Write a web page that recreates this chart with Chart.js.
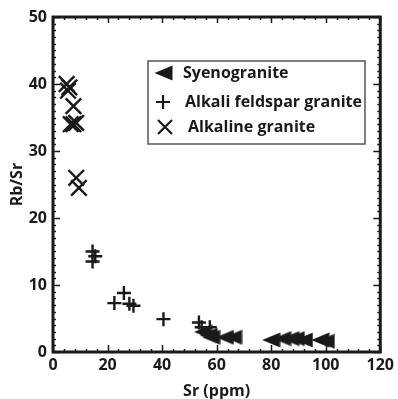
<!DOCTYPE html>
<html>
<head>
<meta charset="utf-8">
<script src="https://cdn.jsdelivr.net/npm/chart.js@4/dist/chart.umd.min.js"></script>
<style>
  html, body { margin: 0; padding: 0; background: #fff; }
  #wrap { width: 398px; height: 399px; }
</style>
</head>
<body>
<div id="wrap"><canvas id="rbsr"></canvas></div>
<script>
// ----- DATA -----
const seriesNames = ['Syenogranite', 'Alkali feldspar granite', 'Alkaline granite'];

const syenoSr = [55, 57, 58, 63, 66, 80, 84, 87, 89, 92, 98, 100];
const syenoRb = [3, 2.5, 2.2, 2.2, 2.2, 1.8, 2, 2, 2, 1.8, 1.8, 1.6];

const feldSr = [14.5, 15.5, 14.5, 26, 22.5, 28, 29.5, 40.5, 53.5, 54.5, 57.5];
const feldRb = [15, 14.3, 13.5, 8.8, 7.3, 7.2, 6.9, 4.9, 4.4, 3.7, 3.7];

const alkSr = [5, 6, 5.5, 7.5, 6.5, 7.5, 8.5, 8.5, 9.5];
const alkRb = [40, 39.5, 39, 36.7, 34, 34, 34.2, 26, 24.5];

const xTicks = [0, 20, 40, 60, 80, 100, 120];
const yTicks = [0, 10, 20, 30, 40, 50];

const ink = '#1a1a1a';
const labelFont = { family: 'Open Sans', size: 16, weight: 'bold' };

function toPoints(xs, ys) {
  return xs.map((x, i) => ({ x: x, y: ys[i] }));
}

// left-pointing, slightly elongated triangle used as the point style
function makeTriangle() {
  const c = document.createElement('canvas');
  c.width = 19; c.height = 16;
  const g = c.getContext('2d');
  g.fillStyle = ink;
  g.beginPath();
  g.moveTo(0.5, 8);
  g.lineTo(18.5, 0.5);
  g.lineTo(18.5, 15.5);
  g.closePath();
  g.fill();
  return c;
}
const triangleImg = makeTriangle();

// frame with inward major/minor ticks on all four sides
const framePlugin = {
  id: 'frame',
  beforeDatasetsDraw(chart) {
    const { ctx, chartArea: a, scales } = chart;
    const xs = scales.x, ys = scales.y;
    ctx.save();
    ctx.strokeStyle = ink;
    ctx.lineWidth = 1.5;
    ctx.beginPath();
    // x ticks (minor every 4, major every 20)
    for (let v = 0; v <= 120; v += 4) {
      const px = Math.round(xs.getPixelForValue(v)) + 0.5;
      const major = v % 20 === 0;
      const lenB = major ? 7 : 3;
      const lenT = major ? 6 : 3;
      ctx.moveTo(px, a.bottom); ctx.lineTo(px, a.bottom - lenB);
      ctx.moveTo(px, a.top); ctx.lineTo(px, a.top + lenT);
    }
    // y ticks (minor every 1, major every 10)
    for (let v = 0; v <= 50; v += 1) {
      const py = Math.round(ys.getPixelForValue(v)) + 0.5;
      const major = v % 10 === 0;
      const len = major ? 7 : 3;
      ctx.moveTo(a.left, py); ctx.lineTo(a.left + len, py);
      ctx.moveTo(a.right, py); ctx.lineTo(a.right - len, py);
    }
    ctx.stroke();
    ctx.lineWidth = 3;
    ctx.strokeRect(a.left, a.top, a.right - a.left, a.bottom - a.top);
    ctx.restore();
  }
};

// boxed legend inside the plot area
const legendBoxPlugin = {
  id: 'legendBox',
  afterDraw(chart) {
    const { ctx, chartArea: a } = chart;
    const left = a.left + 95, top = a.top + 44;
    ctx.save();
    ctx.strokeStyle = '#555';
    ctx.lineWidth = 1.5;
    ctx.strokeRect(left, top, 217, 83);

    ctx.fillStyle = ink;
    ctx.strokeStyle = ink;
    ctx.lineWidth = 2.2;
    // triangle pointing left
    const ty = top + 12;
    ctx.drawImage(triangleImg, left + 6, ty - 8);
    // plus
    const px = left + 15, py = top + 41;
    ctx.beginPath();
    ctx.moveTo(px - 7, py); ctx.lineTo(px + 7, py);
    ctx.moveTo(px, py - 7); ctx.lineTo(px, py + 7);
    ctx.stroke();
    // cross
    const cx = left + 17, cy = top + 66;
    ctx.beginPath();
    ctx.moveTo(cx - 7, cy - 7); ctx.lineTo(cx + 7, cy + 7);
    ctx.moveTo(cx + 7, cy - 7); ctx.lineTo(cx - 7, cy + 7);
    ctx.stroke();

    ctx.font = 'bold 16px "Open Sans"';
    ctx.textBaseline = 'middle';
    ctx.fillText(seriesNames[0], left + 35, ty);
    ctx.fillText(seriesNames[1], left + 37, py);
    ctx.fillText(seriesNames[2], left + 40, cy);
    ctx.restore();
  }
};

new Chart(document.getElementById('rbsr'), {
  type: 'scatter',
  data: {
    datasets: [
      {
        label: seriesNames[0],
        data: toPoints(syenoSr, syenoRb),
        pointStyle: triangleImg,
        radius: 8,
        backgroundColor: ink,
        borderColor: ink,
        clip: false
      },
      {
        label: seriesNames[1],
        data: toPoints(feldSr, feldRb),
        pointStyle: 'cross',
        radius: 7,
        borderColor: ink,
        borderWidth: 2.4,
        clip: false
      },
      {
        label: seriesNames[2],
        data: toPoints(alkSr, alkRb),
        pointStyle: 'crossRot',
        radius: 11,
        borderColor: ink,
        borderWidth: 2.4,
        clip: false
      }
    ]
  },
  options: {
    responsive: true,
    maintainAspectRatio: false,
    animation: false,
    layout: { padding: { top: 17, right: 16, left: 0, bottom: 0 } },
    plugins: {
      legend: { display: false },
      tooltip: { enabled: false }
    },
    scales: {
      x: {
        type: 'linear',
        min: 0,
        max: 120,
        afterBuildTicks: (s) => { s.ticks = xTicks.map(v => ({ value: v })); },
        afterFit: (s) => { s.height = 47; },
        grid: { display: false, drawTicks: false },
        border: { display: false },
        ticks: { color: ink, font: labelFont, padding: 4 },
        title: { display: true, text: 'Sr (ppm)', color: ink, font: labelFont, padding: { top: 0, bottom: -2 } }
      },
      y: {
        type: 'linear',
        min: 0,
        max: 50,
        afterBuildTicks: (s) => { s.ticks = yTicks.map(v => ({ value: v })); },
        afterFit: (s) => { s.width = 53; },
        grid: { display: false, drawTicks: false },
        border: { display: false },
        ticks: { color: ink, font: labelFont, padding: 6 },
        title: { display: true, text: 'Rb/Sr', color: ink, font: labelFont, padding: { top: 8, bottom: 0 } }
      }
    }
  },
  plugins: [framePlugin, legendBoxPlugin]
});
</script>
</body>
</html>
